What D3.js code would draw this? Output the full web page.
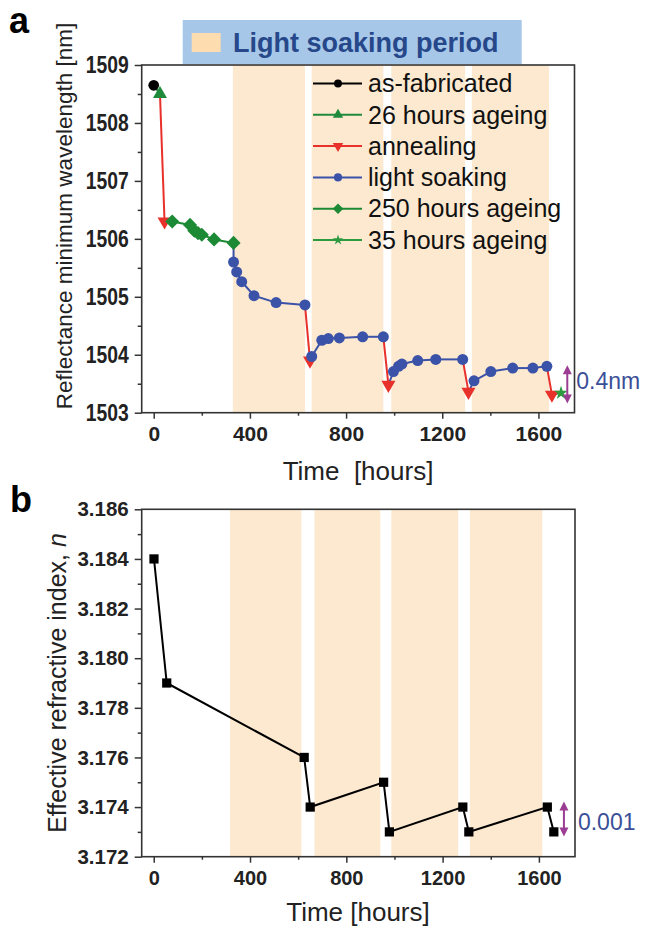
<!DOCTYPE html>
<html>
<head>
<meta charset="utf-8">
<script src="https://cdn.jsdelivr.net/npm/d3@7"></script>
<style>
  body { margin: 0; background: #fff; }
  svg { display: block; font-family: "Liberation Sans", Arial, sans-serif; }
  .tick text { font-family: "Liberation Sans", Arial, sans-serif; font-weight: bold; fill: #222; }
</style>
</head>
<body>
<svg id="chart"></svg>
<script>
// ---- panel a: reflectance minimum wavelength [nm] vs time [hours]
const asFabricated = [[0, 1508.65]];
const ageing26 = [[26, 1508.5]];
const annealing = [[45, 1506.3], [650, 1503.9], [976, 1503.48], [1309, 1503.36], [1656, 1503.31]];
const lightSoaking = [
  [332, 1505.6], [345, 1505.43], [366, 1505.26], [417, 1505.02], [509, 1504.9], [629, 1504.86],
  [657, 1503.97], [699, 1504.25], [726, 1504.28], [772, 1504.29], [869, 1504.31], [955, 1504.31],
  [997, 1503.71], [1018, 1503.8], [1032, 1503.84], [1098, 1503.9], [1173, 1503.92], [1285, 1503.92],
  [1332, 1503.55], [1402, 1503.71], [1493, 1503.77], [1577, 1503.77], [1635, 1503.8]
];
const ageing250 = [[77, 1506.3], [151, 1506.24], [169, 1506.14], [184, 1506.1], [200, 1506.07], [251, 1505.99], [332, 1505.93]];
const ageing35 = [[1694, 1503.34]];
const soakBandsA = [[329, 629], [657, 955], [988, 1295], [1323, 1644]];

// ---- panel b: effective refractive index vs time [hours]
const indexTime = [1, 54, 625, 650, 955, 979, 1284, 1309, 1635, 1662];
const indexValue = [3.184, 3.179, 3.176, 3.174, 3.175, 3.173, 3.174, 3.173, 3.174, 3.173];
const soakBandsB = [[317, 613], [668, 941], [987, 1265], [1313, 1614]];

const xTicks = [0, 400, 800, 1200, 1600];
const xMinorTicks = [200, 600, 1000, 1400];
const yTicksA = [1503, 1504, 1505, 1506, 1507, 1508, 1509];
const yTicksB = [3.172, 3.174, 3.176, 3.178, 3.180, 3.182, 3.184, 3.186];

const bandColor = '#fde9d0';
const downTriangle = {
  draw(ctx, size) { // pointing down
    const y = -Math.sqrt(size / (3 * Math.sqrt(3)));
    ctx.moveTo(0, -y * 2);
    ctx.lineTo(-Math.sqrt(3) * y, y);
    ctx.lineTo(Math.sqrt(3) * y, y);
    ctx.closePath();
  }
};
const diamond = {
  draw(ctx, size) {
    const r = Math.sqrt(size / 2);
    ctx.moveTo(0, -r); ctx.lineTo(r, 0); ctx.lineTo(0, r); ctx.lineTo(-r, 0); ctx.closePath();
  }
};

const seriesList = [
  { name: 'as-fabricated', data: asFabricated, color: '#000000', symbol: d3.symbolCircle, size: 90 },
  { name: '26 hours ageing', data: ageing26, color: '#1f8a3b', symbol: d3.symbolTriangle, size: 85 },
  { name: 'annealing', data: annealing, color: '#e8312b', symbol: downTriangle, size: 85 },
  { name: 'light soaking', data: lightSoaking, color: '#3a52a8', symbol: d3.symbolCircle, size: 95 },
  { name: '250 hours ageing', data: ageing250, color: '#1c8a35', symbol: diamond, size: 100 },
  { name: '35 hours ageing', data: ageing35, color: '#2d9a40', symbol: d3.symbolStar, size: 60 }
];

const W = 646, H = 928;
const svg = d3.select('#chart').attr('width', W).attr('height', H);

function drawAxes(g, x, y, box, yTicks, yMinor, yFmt, xPad) {
  g.append('g')
    .attr('transform', `translate(0,${box.bottom})`)
    .call(d3.axisBottom(x).tickValues(xMinorTicks).tickSize(3).tickFormat(''))
    .call(a => a.select('.domain').remove());
  const xAxis = g.append('g')
    .attr('transform', `translate(0,${box.bottom})`)
    .call(d3.axisBottom(x).tickValues(xTicks).tickSize(6).tickPadding(xPad).tickFormat(d3.format('d')))
    .call(a => a.select('.domain').remove());
  g.append('g')
    .attr('transform', `translate(${box.left},0)`)
    .call(d3.axisLeft(y).tickValues(yMinor).tickSize(4).tickFormat(''))
    .call(a => a.select('.domain').remove());
  const yAxis = g.append('g')
    .attr('transform', `translate(${box.left},0)`)
    .call(d3.axisLeft(y).tickValues(yTicks).tickSize(7).tickPadding(6).tickFormat(yFmt))
    .call(a => a.select('.domain').remove());
  g.selectAll('.tick line').attr('stroke', '#333').attr('stroke-width', 1.5);
  g.append('rect')
    .attr('x', box.left).attr('y', box.top)
    .attr('width', box.right - box.left).attr('height', box.bottom - box.top)
    .attr('fill', 'none').attr('stroke', '#333').attr('stroke-width', 1.6);
  return { xAxis, yAxis };
}

function drawBands(g, x, box, bands) {
  g.selectAll('rect.band').data(bands).join('rect')
    .attr('class', 'band')
    .attr('x', d => x(d[0])).attr('width', d => x(d[1]) - x(d[0]))
    .attr('y', box.top).attr('height', box.bottom - box.top)
    .attr('fill', bandColor);
}

function drawArrow(g, x1, y1, y2, color) {
  g.append('line')
    .attr('x1', x1).attr('x2', x1).attr('y1', y1 + 6).attr('y2', y2 - 6)
    .attr('stroke', color).attr('stroke-width', 2);
  g.append('path').attr('d', `M${x1 - 4.5},${y1 + 9} L${x1},${y1} L${x1 + 4.5},${y1 + 9} Z`).attr('fill', color);
  g.append('path').attr('d', `M${x1 - 4.5},${y2 - 9} L${x1},${y2} L${x1 + 4.5},${y2 - 9} Z`).attr('fill', color);
}

// ================= panel a =================
const boxA = { left: 141.7, right: 574.5, top: 65, bottom: 412.7 };
const xA = d3.scaleLinear().domain([-50, 1750]).range([boxA.left, boxA.right]);
const yA = d3.scaleLinear().domain([1503, 1509]).range([boxA.bottom, boxA.top]);
const gA = svg.append('g');

drawBands(gA, xA, boxA, soakBandsA);

// chronological path, each segment coloured by the series it leads into
const pointsA = seriesList
  .flatMap(s => s.data.map(d => ({ t: d[0], v: d[1], s })))
  .sort((a, b) => a.t - b.t || b.v - a.v);

gA.selectAll('line.seg').data(pointsA.slice(1)).join('line')
  .attr('class', 'seg')
  .attr('x1', (d, i) => xA(pointsA[i].t)).attr('y1', (d, i) => yA(pointsA[i].v))
  .attr('x2', d => xA(d.t)).attr('y2', d => yA(d.v))
  .attr('stroke', d => d.s.color).attr('stroke-width', 2);

gA.selectAll('path.pt').data(pointsA).join('path')
  .attr('class', 'pt')
  .attr('transform', d => `translate(${xA(d.t)},${yA(d.v)})`)
  .attr('d', d => d3.symbol(d.s.symbol, d.s.size)())
  .attr('fill', d => d.s.color);

const axA = drawAxes(gA, xA, yA, boxA, yTicksA, d3.range(1503.5, 1509, 1), d3.format('d'), 7);
axA.xAxis.selectAll('text').attr('font-size', 21);
// the y labels of panel a are tall and narrow in the figure
axA.yAxis.selectAll('text').attr('font-size', 23)
  .each(function () {
    const w = this.getComputedTextLength();
    d3.select(this).attr('textLength', w * 0.84).attr('lengthAdjust', 'spacingAndGlyphs');
  });

// legend
const legend = gA.append('g');
const rowsA = legend.selectAll('g').data(seriesList).join('g')
  .attr('transform', (d, i) => `translate(313,${83.5 + i * 31.3})`);
rowsA.append('line').attr('x1', 0).attr('x2', 49)
  .attr('stroke', d => d.color).attr('stroke-width', 2);
rowsA.append('path').attr('transform', 'translate(25,0)')
  .attr('d', d => d3.symbol(d.symbol, d.size * 0.55)()).attr('fill', d => d.color);
rowsA.append('text').attr('x', 55).attr('dy', '0.35em')
  .attr('font-size', 25).attr('fill', '#111').text(d => d.name);

// title box
svg.append('rect').attr('x', 182.7).attr('y', 20).attr('width', 339).attr('height', 44).attr('fill', '#a7c7e8');
svg.append('rect').attr('x', 191.7).attr('y', 33).attr('width', 29).attr('height', 19).attr('fill', '#fddcaf');
svg.append('text').attr('x', 233).attr('y', 52).attr('font-size', 27).attr('font-weight', 'bold')
  .attr('fill', '#26478a').text('Light soaking period');

drawArrow(gA, xA(1720), yA(1503.82), yA(1503.16), '#9a3d93');
gA.append('text').attr('x', xA(1720) + 9).attr('y', yA(1503.54)).attr('dy', '0.35em')
  .attr('font-size', 23).attr('fill', '#3b4f98').text('0.4nm');

gA.append('text').attr('transform', 'translate(72,216) rotate(-90)')
  .attr('text-anchor', 'middle').attr('font-size', 22.5).attr('fill', '#222')
  .text('Reflectance minimum wavelength [nm]');
gA.append('text').attr('x', 358).attr('y', 480).attr('text-anchor', 'middle')
  .attr('font-size', 26).attr('fill', '#222').style('white-space', 'pre')
  .text('Time  [hours]');
svg.append('text').attr('x', 9).attr('y', 33).attr('font-size', 36).attr('font-weight', 'bold').text('a');

// ================= panel b =================
const boxB = { left: 141.7, right: 575, top: 509.3, bottom: 856.7 };
const xB = d3.scaleLinear().domain([-50, 1750]).range([boxB.left, boxB.right]);
const yB = d3.scaleLinear().domain([3.172, 3.186]).range([boxB.bottom, boxB.top]);
const gB = svg.append('g');

drawBands(gB, xB, boxB, soakBandsB);

const pointsB = indexTime.map((t, i) => ({ t, v: indexValue[i] }));
gB.append('path').datum(pointsB)
  .attr('d', d3.line().x(d => xB(d.t)).y(d => yB(d.v)))
  .attr('fill', 'none').attr('stroke', '#000').attr('stroke-width', 2);
gB.selectAll('path.pt').data(pointsB).join('path')
  .attr('class', 'pt')
  .attr('transform', d => `translate(${xB(d.t)},${yB(d.v)})`)
  .attr('d', d3.symbol(d3.symbolSquare, 85)())
  .attr('fill', '#000');

const axB = drawAxes(gB, xB, yB, boxB, yTicksB, d3.range(3.173, 3.186, 0.002), d3.format('.3f'), 8);
axB.xAxis.selectAll('text').attr('font-size', 20);
axB.yAxis.selectAll('text').attr('font-size', 20.5);

drawArrow(gB, xB(1704), yB(3.17422), yB(3.17281), '#9a3d93');
gB.append('text').attr('x', xB(1704) + 14).attr('y', yB(3.17341)).attr('dy', '0.35em')
  .attr('font-size', 23).attr('fill', '#3b4f98').text('0.001');

const yTitleB = gB.append('text')
  .attr('transform', `translate(66,${(boxB.top + boxB.bottom) / 2}) rotate(-90)`)
  .attr('text-anchor', 'middle').attr('font-size', 25).attr('fill', '#222');
yTitleB.append('tspan').text('Effective refractive index, ');
yTitleB.append('tspan').attr('font-style', 'italic').text('n');
gB.append('text').attr('x', 358).attr('y', 921).attr('text-anchor', 'middle')
  .attr('font-size', 26).attr('fill', '#222').text('Time [hours]');
svg.append('text').attr('x', 10).attr('y', 512).attr('font-size', 36).attr('font-weight', 'bold').text('b');
</script>
</body>
</html>
